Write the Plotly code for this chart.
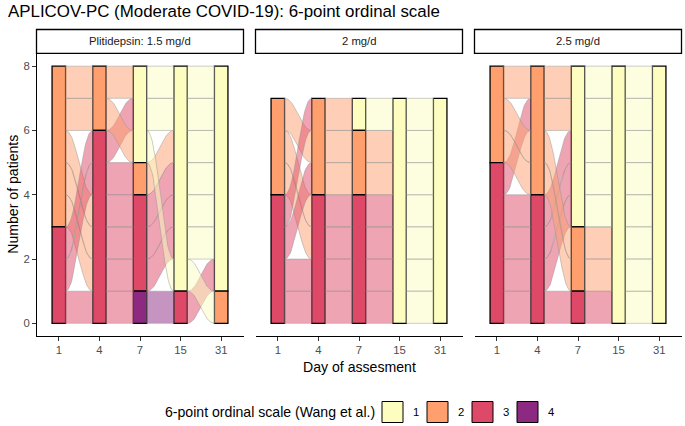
import plotly.graph_objects as go
import numpy as np

# ---------------- data ----------------
day_labels = ["1", "4", "7", "15", "31"]
panel_titles = ["Plitidepsin: 1.5 mg/d", "2 mg/d", "2.5 mg/d"]
score_levels = [1, 2, 3, 4]
score_colors = ["#FCFDBF", "#FE9F6D", "#DE4968", "#8C2981"]
legend_title = "6-point ordinal scale (Wang et al.)"

# one row per patient: score on day 1, 4, 7, 15, 31
dose_1_5 = [
    [3, 3, 4, 3, 1],
    [2, 3, 3, 1, 1],
    [2, 3, 3, 1, 1],
    [2, 3, 3, 1, 1],
    [3, 3, 2, 1, 1],
    [3, 3, 1, 1, 1],
    [2, 2, 1, 1, 2],
    [2, 2, 1, 1, 1],
]
dose_2_0 = [
    [3, 3, 3, 1, 1],
    [3, 3, 3, 1, 1],
    [2, 3, 3, 1, 1],
    [2, 3, 3, 1, 1],
    [3, 2, 2, 1, 1],
    [2, 2, 2, 1, 1],
    [3, 2, 1, 1, 1],
]
dose_2_5 = [
    [3, 3, 3, 1, 1],
    [3, 3, 1, 1, 1],
    [3, 3, 1, 1, 1],
    [3, 3, 1, 1, 1],
    [3, 2, 1, 1, 1],
    [2, 2, 2, 1, 1],
    [2, 2, 2, 1, 1],
    [2, 2, 1, 1, 1],
]
panels_data = [dose_1_5, dose_2_0, dose_2_5]

# ---------------- layout constants ----------------
W, H = 685, 426
FONT = "Liberation Sans, Arial, sans-serif"
panel_px = [(36.5, 243.5), (255.5, 462.5), (474.5, 681.5)]
y_top_px, y_bot_px = 53.3, 336.2
strip_top_px = 29.5
STRAT_W = 1 / 3


def px_x(p):
    return p / W


def px_y(p):
    return 1 - p / H


def hex_rgba(h, a):
    h = h.lstrip("#")
    return "rgba(%d,%d,%d,%.2f)" % (int(h[0:2], 16), int(h[2:4], 16), int(h[4:6], 16), a)


def guidance(n, i):
    # rightward lode guidance
    return [i] + list(range(i + 1, n)) + list(range(i - 1, -1, -1))


def lode_bottoms(traj):
    n_pat, n_ax = len(traj), len(traj[0])
    pos = np.zeros((n_pat, n_ax))
    for i in range(n_ax):
        g = guidance(n_ax, i)
        order = sorted(range(n_pat), key=lambda p: ([traj[p][j] for j in g], p))
        for rank, p in enumerate(order):
            pos[p, i] = n_pat - 1 - rank
    return pos


def bezier(x0, y0, x1, y1, n=40, h=0.42):
    L = x1 - x0
    t = np.linspace(0, 1, n)
    P = [(x0, y0), (x0 + h * L, y0), (x1 - h * L, y1), (x1, y1)]
    xs = ((1 - t) ** 3) * P[0][0] + 3 * ((1 - t) ** 2) * t * P[1][0] + 3 * (1 - t) * t ** 2 * P[2][0] + t ** 3 * P[3][0]
    ys = ((1 - t) ** 3) * P[0][1] + 3 * ((1 - t) ** 2) * t * P[1][1] + 3 * (1 - t) * t ** 2 * P[2][1] + t ** 3 * P[3][1]
    return xs, ys


fig = go.Figure()
xpos = list(range(1, len(day_labels) + 1))

for k, traj in enumerate(panels_data):
    xa = "x" if k == 0 else "x%d" % (k + 1)
    ya = "y" if k == 0 else "y%d" % (k + 1)
    pos = lode_bottoms(traj)
    n_ax = len(day_labels)
    # flows (one per patient per gap)
    for i in range(n_ax - 1):
        for p in range(len(traj)):
            x0 = xpos[i] + STRAT_W / 2
            x1 = xpos[i + 1] - STRAT_W / 2
            bx, by = bezier(x0, pos[p, i], x1, pos[p, i + 1])
            tx, ty = bezier(x0, pos[p, i] + 1, x1, pos[p, i + 1] + 1)
            xs = list(tx) + list(bx[::-1]) + [tx[0]]
            ys = list(ty) + list(by[::-1]) + [ty[0]]
            col = score_colors[score_levels.index(traj[p][i])]
            fig.add_trace(go.Scatter(
                x=xs, y=ys, xaxis=xa, yaxis=ya, mode="lines", fill="toself",
                fillcolor=hex_rgba(col, 0.5),
                line=dict(color="rgba(150,150,150,0.6)", width=0.8),
                hoverinfo="skip", showlegend=False))
    # strata
    for s, col in zip(score_levels, score_colors):
        bx, by, bb = [], [], []
        for i in range(n_ax):
            cnt = sum(1 for r in traj if r[i] == s)
            if cnt == 0:
                continue
            base = sum(1 for r in traj if r[i] > s)
            bx.append(xpos[i])
            by.append(cnt)
            bb.append(base)
        if bx:
            fig.add_trace(go.Bar(
                x=bx, y=by, base=bb, width=STRAT_W, xaxis=xa, yaxis=ya,
                marker=dict(color=col, line=dict(color="black", width=1.3)),
                hoverinfo="skip", showlegend=False))

layout = dict(
    width=W, height=H, margin=dict(l=0, r=0, t=0, b=0),
    paper_bgcolor="white", plot_bgcolor="white", barmode="overlay",
    font=dict(family=FONT, color="black"),
    showlegend=False,
)
for k in range(3):
    xk = "xaxis" if k == 0 else "xaxis%d" % (k + 1)
    yk = "yaxis" if k == 0 else "yaxis%d" % (k + 1)
    layout[xk] = dict(
        domain=[px_x(panel_px[k][0]), px_x(panel_px[k][1])],
        range=[0.45, 5.55], anchor="y" if k == 0 else "y%d" % (k + 1),
        tickvals=xpos, ticktext=day_labels, ticks="outside", ticklen=3.5,
        tickcolor="#333333", tickwidth=1, showline=True, linecolor="black",
        linewidth=1, showgrid=False, zeroline=False,
        tickfont=dict(size=11.3, color="#4D4D4D", family=FONT),
    )
    ydict = dict(
        domain=[px_y(y_bot_px), px_y(y_top_px)], range=[-0.4, 8.4],
        anchor="x" if k == 0 else "x%d" % (k + 1), showgrid=False, zeroline=False,
    )
    if k == 0:
        ydict.update(tickvals=[0, 2, 4, 6, 8], ticks="outside", ticklen=3.5,
                     tickcolor="#333333", tickwidth=1, showline=True,
                     linecolor="black", linewidth=1,
                     tickfont=dict(size=11.3, color="#4D4D4D", family=FONT))
    else:
        ydict.update(matches="y", showticklabels=False, ticks="", showline=False)
    layout[yk] = ydict

shapes = []
annotations = []
for k in range(3):
    shapes.append(dict(type="rect", xref="paper", yref="paper",
                       x0=px_x(panel_px[k][0]), x1=px_x(panel_px[k][1]),
                       y0=px_y(y_top_px), y1=px_y(strip_top_px),
                       line=dict(color="black", width=1.3), fillcolor="white"))
    annotations.append(dict(xref="paper", yref="paper",
                            x=px_x((panel_px[k][0] + panel_px[k][1]) / 2),
                            y=px_y((strip_top_px + y_top_px) / 2),
                            text=panel_titles[k], showarrow=False,
                            font=dict(size=11.3, color="#1A1A1A", family=FONT),
                            xanchor="center", yanchor="middle"))

# title
annotations.append(dict(xref="paper", yref="paper", x=px_x(6), y=px_y(12),
                        text="APLICOV-PC (Moderate COVID-19): 6-point ordinal scale",
                        showarrow=False, xanchor="left", yanchor="middle",
                        font=dict(size=16.9, color="black", family=FONT)))
# axis titles
annotations.append(dict(xref="paper", yref="paper", x=px_x(13),
                        y=px_y((y_top_px + y_bot_px) / 2),
                        text="Number of patients", textangle=-90, showarrow=False,
                        xanchor="center", yanchor="middle",
                        font=dict(size=14.1, color="black", family=FONT)))
annotations.append(dict(xref="paper", yref="paper",
                        x=px_x((panel_px[0][0] + panel_px[2][1]) / 2), y=px_y(367),
                        text="Day of assesment", showarrow=False,
                        xanchor="center", yanchor="middle",
                        font=dict(size=14.1, color="black", family=FONT)))
# legend
leg_y = 412
annotations.append(dict(xref="paper", yref="paper", x=px_x(163), y=px_y(leg_y),
                        text=legend_title, showarrow=False, xanchor="left",
                        yanchor="middle",
                        font=dict(size=14.1, color="black", family=FONT)))
key_x0 = 382
key_step = 45
key_size = 21
for j, (s, col) in enumerate(zip(score_levels, score_colors)):
    kx = key_x0 + j * key_step
    shapes.append(dict(type="rect", xref="paper", yref="paper",
                       x0=px_x(kx), x1=px_x(kx + key_size),
                       y0=px_y(leg_y + key_size / 2), y1=px_y(leg_y - key_size / 2),
                       line=dict(color="black", width=1), fillcolor=col))
    annotations.append(dict(xref="paper", yref="paper", x=px_x(kx + key_size + 8),
                            y=px_y(leg_y), text=str(s), showarrow=False,
                            xanchor="left", yanchor="middle",
                            font=dict(size=11.3, color="black", family=FONT)))

layout["shapes"] = shapes
layout["annotations"] = annotations
fig.update_layout(**layout)
fig.write_html(
    "out.html",
    config={"displayModeBar": False, "staticPlot": True},
    post_script="document.body.style.margin='0';document.body.style.padding='0';",
)
